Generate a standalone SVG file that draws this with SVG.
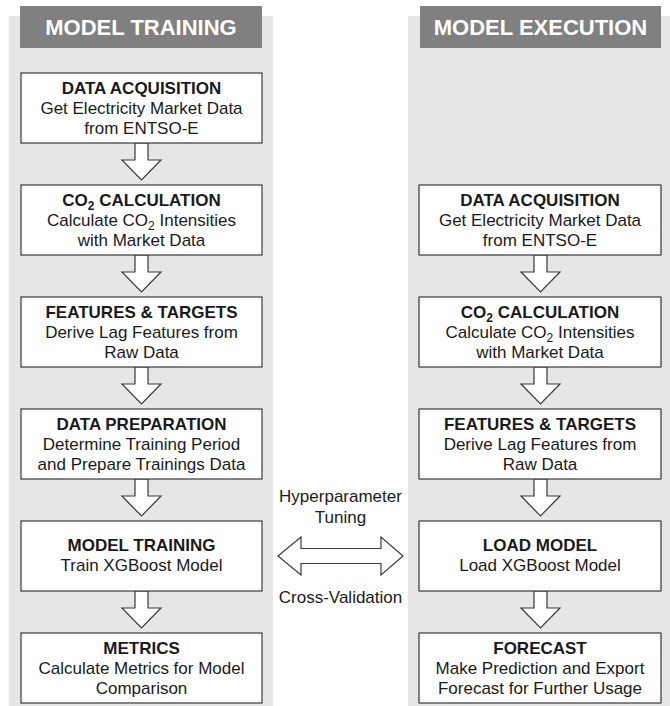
<svg xmlns="http://www.w3.org/2000/svg" width="670" height="706" viewBox="0 0 670 706">
  <style>
    .panel { fill: #e6e6e6; }
    .head { fill: #808080; }
    .headtxt { font-family: "Liberation Sans", Arial, sans-serif; font-weight: bold; font-size: 22px; fill: #ffffff; text-anchor: middle; }
    .box { fill: #ffffff; stroke: #3a3a3a; stroke-width: 1.2; }
    .title { font-family: "Liberation Sans", Arial, sans-serif; font-weight: bold; font-size: 17px; fill: #1a1a1a; text-anchor: middle; }
    .body { font-family: "Liberation Sans", Arial, sans-serif; font-size: 17px; fill: #1a1a1a; text-anchor: middle; }
    .arrow { fill: #ffffff; stroke: #3a3a3a; stroke-width: 1.2; stroke-linejoin: miter; }
    .sub { font-size: 12px; baseline-shift: -4px; }
  </style>

  <!-- column backgrounds -->
  <rect class="panel" x="9" y="16" width="264" height="690"/>
  <rect class="panel" x="408" y="16" width="262" height="690"/>

  <!-- column headers -->
  <g id="header-training">
    <rect class="head" x="20" y="6" width="242" height="42"/>
    <text class="headtxt" x="141" y="35">MODEL TRAINING</text>
  </g>
  <g id="header-execution">
    <rect class="head" x="420" y="6" width="241" height="42"/>
    <text class="headtxt" x="540.5" y="35">MODEL EXECUTION</text>
  </g>

  <!-- connectors: block arrows -->
  <g id="connectors">
    <!-- training column -->
    <path class="arrow" d="M135 143 V160 H122 L141.5 180 L161 160 H148 V143 Z"/>
    <path class="arrow" d="M135 255 V272 H122 L141.5 292 L161 272 H148 V255 Z"/>
    <path class="arrow" d="M135 367 V384 H122 L141.5 404 L161 384 H148 V367 Z"/>
    <path class="arrow" d="M135 479 V496 H122 L141.5 516 L161 496 H148 V479 Z"/>
    <path class="arrow" d="M135 591 V608 H122 L141.5 628 L161 608 H148 V591 Z"/>
    <!-- execution column -->
    <path class="arrow" d="M534 255 V272 H521 L540.5 292 L560 272 H547 V255 Z"/>
    <path class="arrow" d="M534 367 V384 H521 L540.5 404 L560 384 H547 V367 Z"/>
    <path class="arrow" d="M534 479 V496 H521 L540.5 516 L560 496 H547 V479 Z"/>
    <path class="arrow" d="M534 591 V608 H521 L540.5 628 L560 608 H547 V591 Z"/>
    <!-- two-way arrow between training and loading -->
    <path class="arrow" d="M278 556 L301 537 V548.5 H381 V537 L403 556 L381 575 V563.5 H301 V575 Z"/>
    <text class="body" x="340.5" y="502">Hyperparameter</text>
    <text class="body" x="340.5" y="523">Tuning</text>
    <text class="body" x="340.5" y="603">Cross-Validation</text>
  </g>

  <!-- training column nodes -->
  <g id="train-acquisition">
    <rect class="box" x="21" y="73" width="241" height="70"/>
    <text class="title" x="141.5" y="94">DATA ACQUISITION</text>
    <text class="body" x="141.5" y="114">Get Electricity Market Data</text>
    <text class="body" x="141.5" y="134">from ENTSO-E</text>
  </g>
  <g id="train-co2">
    <rect class="box" x="21" y="185" width="241" height="70"/>
    <text class="title" x="141.5" y="206">CO<tspan class="sub">2</tspan> CALCULATION</text>
    <text class="body" x="141.5" y="226">Calculate CO<tspan class="sub">2</tspan> Intensities</text>
    <text class="body" x="141.5" y="246">with Market Data</text>
  </g>
  <g id="train-features">
    <rect class="box" x="21" y="297" width="241" height="70"/>
    <text class="title" x="141.5" y="318">FEATURES &amp; TARGETS</text>
    <text class="body" x="141.5" y="338">Derive Lag Features from</text>
    <text class="body" x="141.5" y="358">Raw Data</text>
  </g>
  <g id="train-preparation">
    <rect class="box" x="21" y="409" width="241" height="70"/>
    <text class="title" x="141.5" y="430">DATA PREPARATION</text>
    <text class="body" x="141.5" y="450">Determine Training Period</text>
    <text class="body" x="141.5" y="470">and Prepare Trainings Data</text>
  </g>
  <g id="train-model">
    <rect class="box" x="21" y="521" width="241" height="70"/>
    <text class="title" x="141.5" y="551">MODEL TRAINING</text>
    <text class="body" x="141.5" y="571">Train XGBoost Model</text>
  </g>
  <g id="train-metrics">
    <rect class="box" x="21" y="633" width="241" height="70"/>
    <text class="title" x="141.5" y="654">METRICS</text>
    <text class="body" x="141.5" y="674">Calculate Metrics for Model</text>
    <text class="body" x="141.5" y="694">Comparison</text>
  </g>

  <!-- execution column nodes -->
  <g id="exec-acquisition">
    <rect class="box" x="419" y="185" width="242" height="70"/>
    <text class="title" x="540" y="206">DATA ACQUISITION</text>
    <text class="body" x="540" y="226">Get Electricity Market Data</text>
    <text class="body" x="540" y="246">from ENTSO-E</text>
  </g>
  <g id="exec-co2">
    <rect class="box" x="419" y="297" width="242" height="70"/>
    <text class="title" x="540" y="318">CO<tspan class="sub">2</tspan> CALCULATION</text>
    <text class="body" x="540" y="338">Calculate CO<tspan class="sub">2</tspan> Intensities</text>
    <text class="body" x="540" y="358">with Market Data</text>
  </g>
  <g id="exec-features">
    <rect class="box" x="419" y="409" width="242" height="70"/>
    <text class="title" x="540" y="430">FEATURES &amp; TARGETS</text>
    <text class="body" x="540" y="450">Derive Lag Features from</text>
    <text class="body" x="540" y="470">Raw Data</text>
  </g>
  <g id="exec-load">
    <rect class="box" x="419" y="521" width="242" height="70"/>
    <text class="title" x="540" y="551">LOAD MODEL</text>
    <text class="body" x="540" y="571">Load XGBoost Model</text>
  </g>
  <g id="exec-forecast">
    <rect class="box" x="419" y="633" width="242" height="70"/>
    <text class="title" x="540" y="654">FORECAST</text>
    <text class="body" x="540" y="674">Make Prediction and Export</text>
    <text class="body" x="540" y="694">Forecast for Further Usage</text>
  </g>
</svg>
